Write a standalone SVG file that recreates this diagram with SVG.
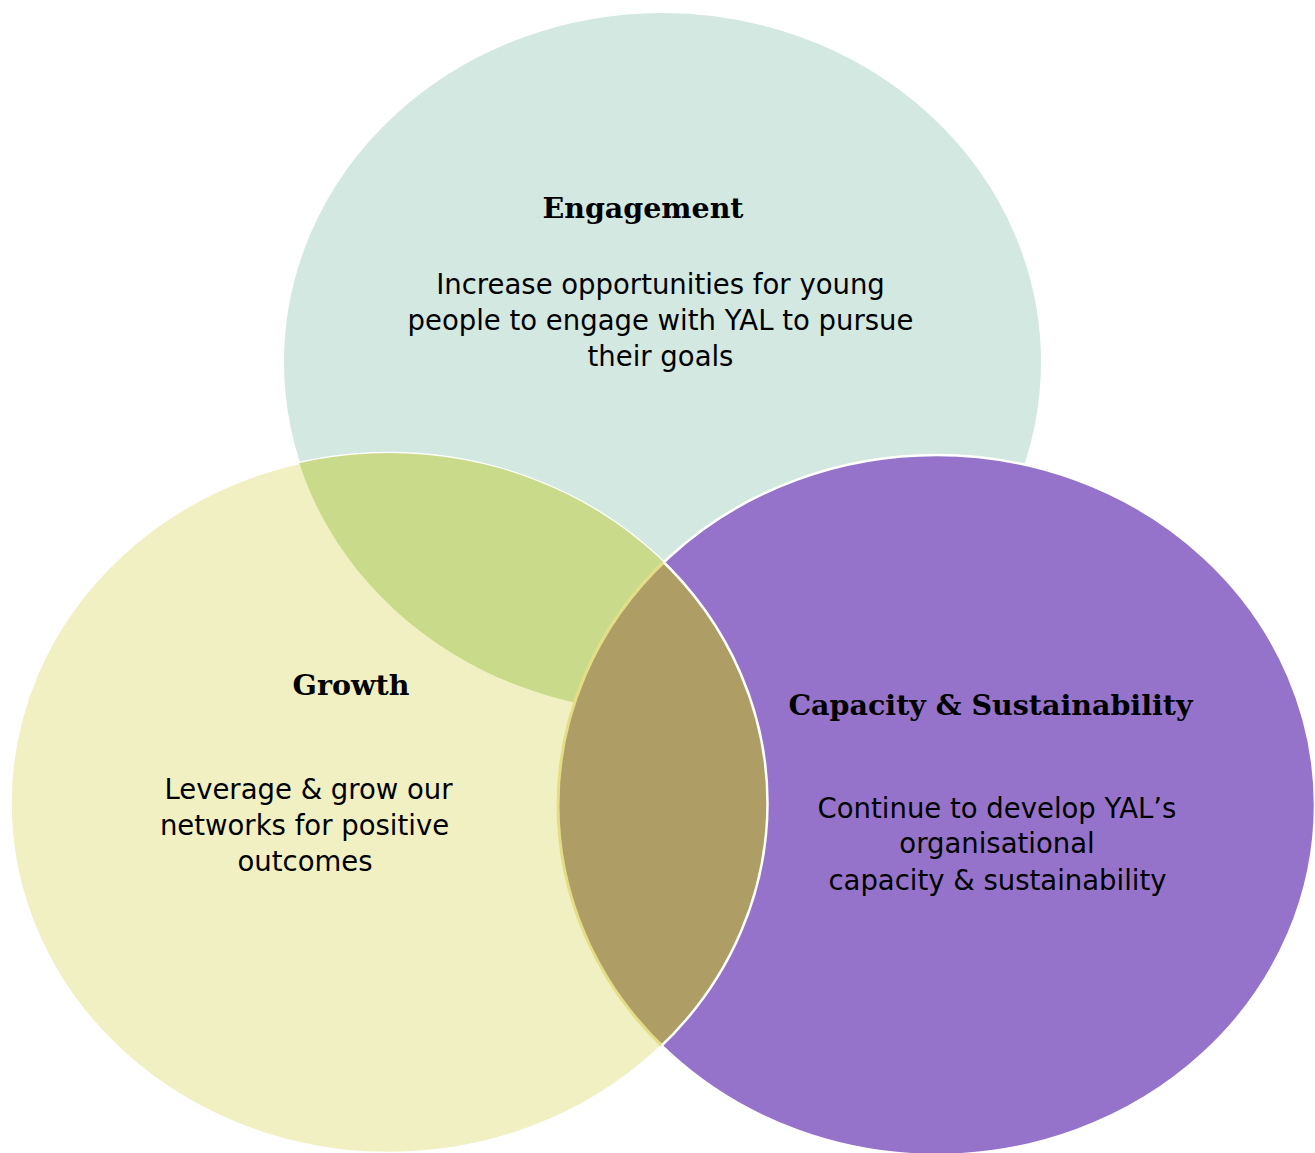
<svg xmlns="http://www.w3.org/2000/svg" width="1315" height="1153" viewBox="0 0 1315 1153">
  <style>
    .h { font-family: "DejaVu Serif", "Liberation Serif", serif; font-weight: bold; font-size: 28.5px; fill: #000; text-anchor: middle; }
    .b { font-family: "DejaVu Sans", "Liberation Sans", sans-serif; font-size: 27.5px; fill: #000; text-anchor: middle; }
  </style>
  <defs>
    <ellipse id="eTop" cx="662.5" cy="362" rx="379.5" ry="350"/>
    <ellipse id="eGrowth" cx="389" cy="803" rx="378.5" ry="350"/>
    <ellipse id="eCap" cx="936.5" cy="805" rx="378.5" ry="350"/>
    <clipPath id="clipTop"><use href="#eTop"/></clipPath>
    <clipPath id="clipGrowth"><use href="#eGrowth"/></clipPath>
    <clipPath id="clipCap"><use href="#eCap"/></clipPath>
  </defs>
  <rect width="1315" height="1153" fill="#ffffff"/>

  <g id="engagement">
    <use href="#eTop" fill="#D3E8E0" stroke="#ffffff" stroke-width="2"/>
  </g>
  <g id="growth">
    <use href="#eGrowth" fill="#F0F0C2" stroke="#ffffff" stroke-width="2.5"/>
  </g>
  <g id="overlap-engagement-growth">
    <use href="#eTop" fill="#C9DB8A" clip-path="url(#clipGrowth)"/>
  </g>
  <g id="capacity">
    <use href="#eCap" fill="#9673CA" stroke="#ffffff" stroke-width="2.5"/>
  </g>
  <g id="overlap-growth-capacity">
    <g clip-path="url(#clipGrowth)">
      <use href="#eCap" fill="#AF9D66" stroke="#E3DE84" stroke-width="3"/>
    </g>
    <g clip-path="url(#clipCap)">
      <use href="#eGrowth" fill="none" stroke="#ffffff" stroke-width="2.5"/>
    </g>
  </g>

  <g id="label-engagement">
    <text class="h" x="643" y="218">Engagement</text>
    <text class="b" x="660.5" y="294">Increase opportunities for young</text>
    <text class="b" x="660.5" y="330">people to engage with YAL to pursue</text>
    <text class="b" x="660.5" y="366">their goals</text>
  </g>
  <g id="label-growth">
    <text class="h" x="351" y="695">Growth</text>
    <text class="b" x="308.5" y="799">Leverage &amp; grow our</text>
    <text class="b" x="304.5" y="835">networks for positive</text>
    <text class="b" x="305" y="871">outcomes</text>
  </g>
  <g id="label-capacity">
    <text class="h" x="990.5" y="715">Capacity &amp; Sustainability</text>
    <text class="b" x="997" y="818">Continue to develop YAL’s</text>
    <text class="b" x="997" y="853">organisational</text>
    <text class="b" x="997.5" y="890">capacity &amp; sustainability</text>
  </g>
  <g id="connectors"/>
</svg>
